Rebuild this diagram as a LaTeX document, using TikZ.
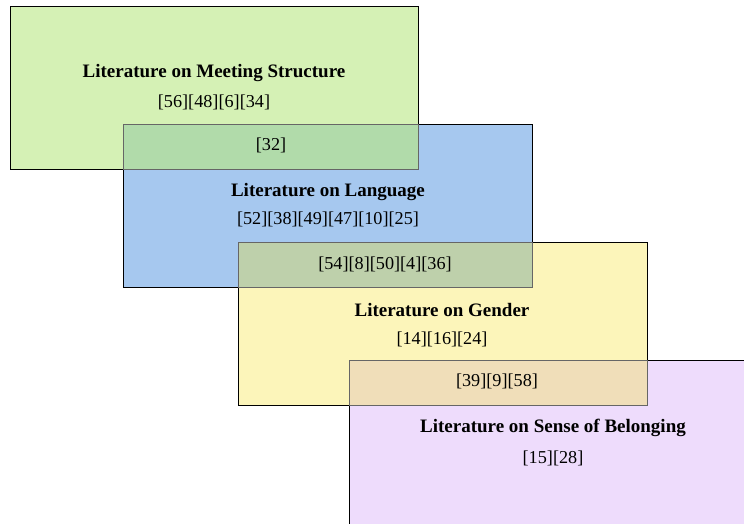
\documentclass[tikz,border=0pt]{standalone}
\usepackage{fontspec}
\setmainfont{Liberation Serif}
\definecolor{cgreen}{RGB}{213,241,181}
\definecolor{cblue}{RGB}{166,200,239}
\definecolor{cyellow}{RGB}{252,245,186}
\definecolor{cpurple}{RGB}{238,220,252}
\definecolor{cgb}{RGB}{177,219,170}
\definecolor{cby}{RGB}{190,208,171}
\definecolor{cyp}{RGB}{240,222,185}
\tikzset{
  area/.style={draw=black, line width=0.8pt},
  overlap/.style={draw=black!60, line width=0.8pt},
  title/.style={font=\fontsize{19}{22}\selectfont\bfseries, inner sep=0pt},
  refs/.style={font=\fontsize{18.2}{21}\selectfont, inner sep=0pt},
}
\begin{document}
\begin{tikzpicture}[x=1pt,y=-1pt]
\useasboundingbox (0,0) rectangle (744,523);
\begin{scope}
\clip (0,0) rectangle (744,523);
\fill[cgreen] (10,6.7) rectangle (418.3,169.3);
\fill[cblue] (123.3,124.3) rectangle (532.3,287);
\fill[cyellow] (238.3,242.7) rectangle (647,405.5);
\fill[cpurple] (349,360) rectangle (760,540);
\draw[area] (10,6.7) rectangle (418.3,169.3);
\draw[area] (123.3,124.3) rectangle (532.3,287);
\draw[area] (238.3,242.7) rectangle (647,405.5);
\draw[area] (349,360) rectangle (760,540);
\fill[cgb] (123.3,124.3) rectangle (418.3,169.3);
\fill[cby] (238.3,242.7) rectangle (532.3,287);
\fill[cyp] (349,360) rectangle (647,405.5);
\draw[overlap] (123.3,124.3) rectangle (418.3,169.3);
\draw[overlap] (238.3,242.7) rectangle (532.3,287);
\draw[overlap] (349,360) rectangle (647,405.5);
\end{scope}
\node[title] (t1) at (214,73.5) {Literature on Meeting Structure};
\node[refs] (r1) at (214,102) {[56][48][6][34]};
\node[refs] (o1) at (271,145) {[32]};
\node[title] (t2) at (328,191.5) {Literature on Language};
\node[refs] (r2) at (328,219.5) {[52][38][49][47][10][25]};
\node[refs] (o2) at (385,264.5) {[54][8][50][4][36]};
\node[title] (t3) at (442,310.5) {Literature on Gender};
\node[refs] (r3) at (442,339.5) {[14][16][24]};
\node[refs] (o3) at (497,381.5) {[39][9][58]};
\node[title] (t4) at (553,427.5) {Literature on Sense of Belonging};
\node[refs] (r4) at (553,458.5) {[15][28]};
\end{tikzpicture}
\end{document}
